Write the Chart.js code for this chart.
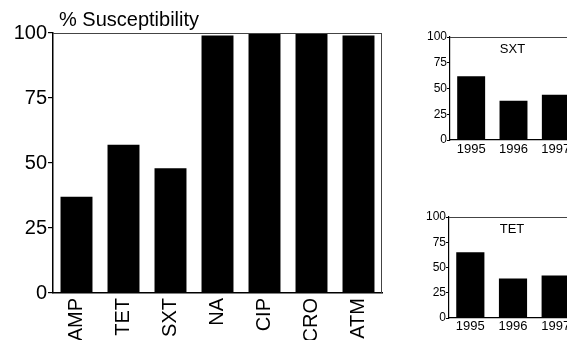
<!DOCTYPE html>
<html><head><meta charset="utf-8">
<script src="https://cdn.jsdelivr.net/npm/chart.js@4/dist/chart.umd.min.js"></script>
<style>
html,body{margin:0;padding:0;background:#fff;overflow:hidden;width:567px;height:340px;position:relative}
.box{position:absolute;overflow:hidden}
canvas{display:block}
</style></head><body>
<div class="box" style="left:0;top:0;width:400px;height:340px"><canvas id="main" width="400" height="340"></canvas></div>
<div class="box" style="left:400px;top:20px;width:200px;height:150px"><canvas id="sxt" width="200" height="150"></canvas></div>
<div class="box" style="left:400px;top:195px;width:200px;height:145px"><canvas id="tet" width="200" height="145"></canvas></div>
<script>
const antibiotics = ['AMP','TET','SXT','NA','CIP','CRO','ATM'];
const susceptibility = [37, 57, 48, 99, 100, 100, 99];
const yTicks = [0, 25, 50, 75, 100];
const years = ['1995','1996','1997'];
const sxtByYear = [62, 38, 44];
const tetByYear = [65, 39, 42];
const mainTitle = '% Susceptibility';
const sxtLabel = 'SXT';
const tetLabel = 'TET';

const FONT = "'Liberation Sans', Arial, Helvetica, sans-serif";
Chart.defaults.color = '#000';
Chart.defaults.font.family = FONT;

const framePlugin = {
  id: 'frame',
  afterDraw(chart, args, opts) {
    const {ctx, chartArea: a} = chart;
    ctx.save();
    ctx.strokeStyle = '#444';
    ctx.lineWidth = 1;
    ctx.beginPath();
    ctx.moveTo(a.left, a.top + 0.5);
    ctx.lineTo(a.right, a.top + 0.5);
    ctx.moveTo(a.right - 0.5, a.top);
    ctx.lineTo(a.right - 0.5, a.bottom);
    ctx.stroke();
    if (opts.text) {
      ctx.fillStyle = '#000';
      ctx.font = opts.font;
      ctx.textAlign = opts.align || 'left';
      ctx.textBaseline = 'alphabetic';
      const x = opts.xFromArea ? (a.left + a.right) / 2 + opts.dx : opts.x;
      const y = opts.yFromArea ? a.top + opts.dy : opts.y;
      ctx.fillText(opts.text, x, y);
    }
    ctx.restore();
  }
};

new Chart(document.getElementById('main'), {
  type: 'bar',
  data: { labels: antibiotics, datasets: [{ data: susceptibility, backgroundColor: '#000', borderWidth: 0, barPercentage: 0.68, categoryPercentage: 1 }] },
  options: {
    responsive: false, animation: false, devicePixelRatio: 1,
    layout: { padding: { left: 0, top: 33, right: 18, bottom: 0 } },
    plugins: { legend: { display: false }, tooltip: { enabled: false },
      frame: { text: mainTitle, font: "20px " + FONT, x: 59, y: 26 } },
    scales: {
      x: {
        grid: { display: false, drawTicks: false },
        border: { display: true, color: '#000', width: 1.5 },
        ticks: { font: { size: 20 }, maxRotation: 90, minRotation: 90, padding: 5, autoSkip: false },
        afterFit(s) { s.height = 47; }
      },
      y: {
        min: 0, max: 100,
        afterBuildTicks(s) { s.ticks = yTicks.map(v => ({ value: v })); },
        grid: { display: true, drawOnChartArea: false, tickLength: 5, color: '#000', lineWidth: 1.2 },
        border: { display: true, color: '#000', width: 1.5 },
        ticks: { font: { size: 20 }, padding: 1 },
        afterFit(s) { s.width = 53; }
      }
    }
  },
  plugins: [framePlugin]
});

function makeSmall(id, values, label, pad, yW, xH, xPad) {
  new Chart(document.getElementById(id), {
    type: 'bar',
    data: { labels: years, datasets: [{ data: values, backgroundColor: '#000', borderWidth: 0, barPercentage: 0.66, categoryPercentage: 1 }] },
    options: {
      responsive: false, animation: false, devicePixelRatio: 1,
      layout: { padding: pad },
      plugins: { legend: { display: false }, tooltip: { enabled: false },
        frame: { text: label, font: "13px " + FONT, align: 'center', xFromArea: true, dx: -1, yFromArea: true, dy: 16 } },
      scales: {
        x: {
          grid: { display: false, drawTicks: false },
          border: { display: true, color: '#000', width: 1.2 },
          ticks: { font: { size: 13 }, maxRotation: 0, padding: xPad, autoSkip: false },
          afterFit(s) { s.height = xH; }
        },
        y: {
          min: 0, max: 100,
          afterBuildTicks(s) { s.ticks = yTicks.map(v => ({ value: v })); },
          grid: { display: true, drawOnChartArea: false, tickLength: 3, color: '#000', lineWidth: 1 },
          border: { display: true, color: '#000', width: 1.2 },
          ticks: { font: { size: 12 }, padding: 0 },
          afterFit(s) { s.width = yW; }
        }
      }
    },
    plugins: [framePlugin]
  });
}
makeSmall('sxt', sxtByYear, sxtLabel, { left: 0, top: 17, right: 23, bottom: 0 }, 50, 30, 2);
makeSmall('tet', tetByYear, tetLabel, { left: 0, top: 22, right: 23, bottom: 0 }, 49, 22, 1);
</script>
</body></html>
